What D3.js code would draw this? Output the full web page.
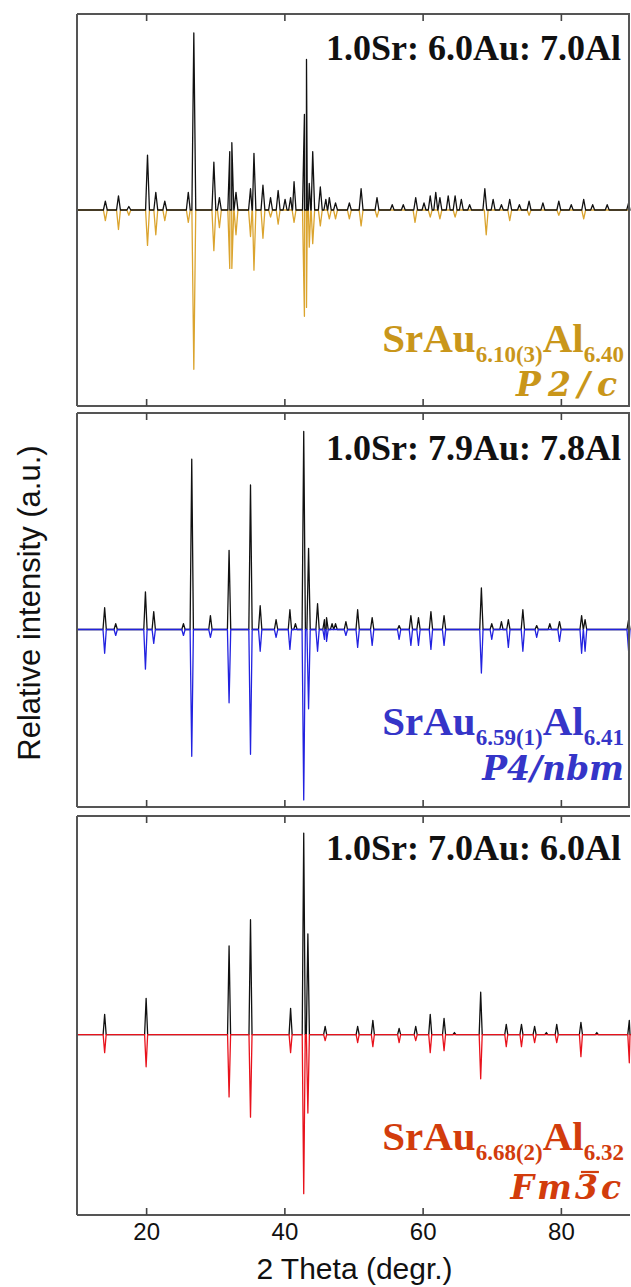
<!DOCTYPE html>
<html>
<head>
<meta charset="utf-8">
<script src="https://cdn.jsdelivr.net/npm/d3@7"></script>
<style>
  body { margin: 0; background: #fff; }
  .axis text { font-family: "Liberation Sans", Arial, sans-serif; fill: #111; }
</style>
</head>
<body>
<svg id="chart" width="631" height="1287"></svg>
<script>
// ── Data ───────────────────────────────────────────────────────────────────
const xDomain = [10, 90];
const xTicks = [20, 40, 60, 80];

// panel 1 : 1.0Sr : 6.0Au : 7.0Al  (relative intensity, %)
const obs1Pos = [14.1, 16.0, 17.5, 20.2, 21.4, 22.7, 26.1, 26.9, 29.8, 30.6, 32.1, 32.4, 33.0, 35.1, 35.6, 36.9,
  38.0, 39.1, 40.1, 40.9, 41.4, 42.9, 43.2, 43.6, 44.1, 45.2, 46.0, 46.5, 47.4, 49.4, 51.1, 53.4, 55.6, 57.2,
  59.0, 60.2, 61.1, 61.9, 62.5, 63.7, 64.7, 65.6, 66.8, 69.0, 70.2, 71.4, 72.6, 74.0, 75.4, 77.4, 79.7, 81.5,
  83.3, 84.6, 86.7, 89.8];
const obs1Int = [5, 8, 2, 31, 10, 5, 10, 100, 27, 7, 33, 38, 10, 12, 32, 14,
  7, 11, 6, 7, 16, 54, 85, 15, 33, 13, 6, 7, 4, 4, 12, 7, 3, 3,
  7, 4, 8, 10, 7, 8, 8, 6, 3, 12, 6, 3, 6, 3, 5, 4, 5, 3,
  6, 3, 3, 4];
const calc1Pos = [14.1, 16.0, 17.5, 20.2, 21.4, 22.7, 26.1, 26.9, 29.8, 30.6, 32.1, 32.4, 33.0, 35.1, 35.6, 36.9,
  38.0, 39.1, 41.4, 42.9, 43.2, 43.6, 44.1, 45.2, 46.5, 47.4, 49.4, 51.1, 53.4, 58.9, 61.1, 62.5, 64.7, 69.2,
  72.6, 75.4, 79.7, 83.3];
const calc1Int = [6, 11, 3, 20, 14, 6, 7, 90, 23, 10, 33, 33, 14, 15, 34, 16,
  4, 8, 7, 60, 55, 21, 19, 9, 5, 5, 5, 9, 4, 7, 4, 5, 4, 14,
  6, 3, 3, 5];

// panel 2 : 1.0Sr : 7.9Au : 7.8Al
const obs2Pos = [14.0, 15.6, 19.9, 21.1, 25.4, 26.6, 29.3, 32.0, 35.1, 36.5, 38.8, 40.8, 41.6, 42.8, 43.5, 44.8,
  45.8, 46.1, 46.9, 47.4, 48.9, 50.6, 52.7, 56.6, 58.3, 59.4, 61.2, 63.1, 68.5, 70.0, 71.4, 72.4, 74.5, 76.5,
  78.4, 79.8, 83.0, 83.5, 89.8];
const obs2Int = [11, 3, 19, 9, 3, 86, 7, 40, 73, 12, 5, 10, 3, 100, 41, 13,
  5, 6, 3, 3, 4, 10, 6, 2, 7, 6, 9, 7, 21, 3, 4, 5, 10, 2,
  3, 4, 7, 5, 5];
const calc2Pos = [14.0, 15.6, 19.9, 21.1, 25.4, 26.6, 29.3, 32.0, 35.1, 36.5, 38.8, 40.8, 42.8, 43.5, 44.8, 45.8,
  46.1, 48.9, 50.6, 52.7, 56.6, 58.3, 59.4, 61.2, 63.1, 68.5, 70.0, 72.4, 74.5, 76.5, 79.8, 83.0, 83.5, 89.8];
const calc2Int = [12, 3, 20, 7, 3, 64, 4, 37, 63, 11, 4, 10, 86, 40, 11, 5,
  6, 3, 9, 8, 5, 8, 8, 10, 8, 22, 5, 9, 11, 4, 6, 12, 11, 11];

// panel 3 : 1.0Sr : 7.0Au : 6.0Al
const obs3Pos = [14.0, 20.0, 32.0, 35.1, 40.9, 42.8, 43.4, 45.9, 50.6, 52.8, 56.6, 59.0, 61.1, 63.1, 64.6, 68.4,
  72.1, 74.3, 76.2, 77.9, 79.4, 82.9, 85.2, 89.9];
const obs3Int = [10, 18, 44, 57, 13, 100, 50, 4, 4, 7, 3, 4, 10, 8, 1, 21,
  5, 5, 4, 1, 5, 6, 1, 7];
const calc3Pos = [14.0, 20.0, 32.0, 35.1, 40.9, 42.8, 43.4, 45.9, 50.6, 52.8, 56.6, 59.0, 61.1, 63.1, 68.4, 72.1,
  74.3, 76.2, 79.4, 82.9, 89.9];
const calc3Int = [9, 16, 31, 41, 9, 79, 39, 3, 4, 6, 4, 3, 9, 8, 22, 6,
  6, 4, 4, 11, 14];

// labels
const ratioLabels = ["1.0Sr: 6.0Au: 7.0Al", "1.0Sr: 7.9Au: 7.8Al", "1.0Sr: 7.0Au: 6.0Al"];
const auSubs = ["6.10(3)", "6.59(1)", "6.68(2)"];
const alSubs = ["6.40", "6.41", "6.32"];
const spaceGroups = ["P2/c", "P4/nbm", "Fm3c"];
const barredChar = [-1, -1, 2];   // index of the character carrying an overbar (Fm-3c)
const yLabel = "Relative intensity (a.u.)";
const xLabel = "2 Theta (degr.)";

// y range (relative intensity) shown in each panel
const yDomains = [[-110.7, 110.7], [-89.6, 109.3], [-89.6, 108.5]];

// ── Layout ─────────────────────────────────────────────────────────────────
const LEFT = 77, RIGHT = 630;
const panels = [
  { top: 14,  bottom: 406,  calcColor: "#dba42e", textColor: "#c9961a", obsOnTop: true,  hw: 0.28,
    obsPos: obs1Pos, obsInt: obs1Int, calcPos: calc1Pos, calcInt: calc1Int,
    ratioY: 60, formulaY: 352, sgY: 396, sgSpacing: 7, rightBorder: true },
  { top: 413, bottom: 807,  calcColor: "#2222e0", textColor: "#3535c8", obsOnTop: false, hw: 0.24,
    obsPos: obs2Pos, obsInt: obs2Int, calcPos: calc2Pos, calcInt: calc2Int,
    ratioY: 460, formulaY: 735, sgY: 780, sgSpacing: 0, rightBorder: true },
  { top: 816, bottom: 1215, calcColor: "#e8121c", textColor: "#d23c0c", obsOnTop: false, hw: 0.22,
    obsPos: obs3Pos, obsInt: obs3Int, calcPos: calc3Pos, calcInt: calc3Int,
    ratioY: 860, formulaY: 1150, sgY: 1199, sgSpacing: 3, rightBorder: false }
];

const svg = d3.select("#chart");
const x = d3.scaleLinear().domain(xDomain).range([LEFT, RIGHT]);

// peaks -> line vertices (baseline, apex, baseline)
function profile(pos, inten, sign, hw) {
  const pts = [[xDomain[0], 0], [xDomain[1], 0]];
  pos.forEach((p, i) => {
    pts.push([p - hw, 0], [p, sign * inten[i]], [p + hw, 0]);
  });
  return pts.sort((a, b) => a[0] - b[0]);
}

// ── Panels ─────────────────────────────────────────────────────────────────
panels.forEach((p, k) => {
  const y = d3.scaleLinear().domain(yDomains[k]).range([p.bottom, p.top]);
  const g = svg.append("g");

  const line = d3.line().x(d => x(d[0])).y(d => y(d[1]));
  const obsPath = () => g.append("path")
    .datum(profile(p.obsPos, p.obsInt, 1, p.hw))
    .attr("fill", "none").attr("stroke", "#111").attr("stroke-width", 1.3)
    .attr("stroke-linejoin", "round").attr("d", line);
  const calcPath = () => g.append("path")
    .datum(profile(p.calcPos, p.calcInt, -1, p.hw))
    .attr("fill", "none").attr("stroke", p.calcColor).attr("stroke-width", 1.3)
    .attr("stroke-linejoin", "round").attr("d", line);

  if (p.obsOnTop) { calcPath(); obsPath(); } else { obsPath(); calcPath(); }

  // frame
  const frame = [[LEFT, p.top, RIGHT, p.top], [LEFT, p.top, LEFT, p.bottom], [LEFT, p.bottom, RIGHT, p.bottom]];
  if (p.rightBorder) frame.push([RIGHT - 1, p.top, RIGHT - 1, p.bottom]);
  g.selectAll("line.frame").data(frame).enter().append("line")
    .attr("class", "frame")
    .attr("x1", d => d[0]).attr("y1", d => d[1]).attr("x2", d => d[2]).attr("y2", d => d[3])
    .attr("stroke", "#555").attr("stroke-width", 2);

  // inward ticks
  const topAxis = g.append("g").attr("class", "axis").attr("transform", `translate(0,${p.top})`)
    .call(d3.axisBottom(x).tickValues(xTicks).tickSize(7).tickFormat(""));
  topAxis.select(".domain").remove();
  const botAxis = g.append("g").attr("class", "axis").attr("transform", `translate(0,${p.bottom})`)
    .call(d3.axisBottom(x).tickValues(xTicks).tickSizeInner(-7).tickSizeOuter(0).tickPadding(8)
      .tickFormat(k === 2 ? d3.format("d") : ""));
  botAxis.select(".domain").remove();
  g.selectAll(".axis line").attr("stroke", "#444").attr("stroke-width", 1.6);
  botAxis.selectAll("text").attr("font-size", 24).attr("dy", "0.71em");

  // composition label
  g.append("text")
    .attr("x", 621).attr("y", p.ratioY)
    .attr("text-anchor", "end")
    .attr("font-family", "'Liberation Serif', 'Times New Roman', serif")
    .attr("font-weight", "bold").attr("font-size", 36).attr("fill", "#111")
    .text(ratioLabels[k]);

  // refined formula
  const f = g.append("text")
    .attr("x", 624).attr("y", p.formulaY)
    .attr("text-anchor", "end")
    .attr("font-family", "'Liberation Serif', 'Times New Roman', serif")
    .attr("font-weight", "bold").attr("font-size", 41).attr("fill", p.textColor);
  f.append("tspan").text("SrAu");
  f.append("tspan").attr("font-size", 23).attr("dy", 10).text(auSubs[k]);
  f.append("tspan").attr("dy", -10).text("Al");
  f.append("tspan").attr("font-size", 23).attr("dy", 10).text(alSubs[k]);

  // space group
  const sg = g.append("text")
    .attr("x", 624).attr("y", p.sgY)
    .attr("text-anchor", "end")
    .attr("font-family", "'DejaVu Serif', serif")
    .attr("font-weight", "bold").attr("font-style", "italic")
    .attr("letter-spacing", p.sgSpacing)
    .attr("font-size", 33).attr("fill", p.textColor)
    .text(spaceGroups[k]);

  if (barredChar[k] >= 0) {
    const ext = sg.node().getExtentOfChar(barredChar[k]);
    g.append("line")
      .attr("x1", ext.x + 6).attr("x2", ext.x + ext.width - p.sgSpacing + 1)
      .attr("y1", p.sgY - 27).attr("y2", p.sgY - 27)
      .attr("stroke", p.textColor).attr("stroke-width", 2.2);
  }
});

// ── Axis titles ────────────────────────────────────────────────────────────
svg.append("text")
  .attr("transform", "translate(40,603) rotate(-90)")
  .attr("text-anchor", "middle")
  .attr("font-family", "'Liberation Sans', Arial, sans-serif")
  .attr("font-size", 31).attr("fill", "#111")
  .text(yLabel);

svg.append("text")
  .attr("x", (LEFT + RIGHT) / 2 + 1).attr("y", 1279)
  .attr("text-anchor", "middle")
  .attr("font-family", "'Liberation Sans', Arial, sans-serif")
  .attr("font-size", 30).attr("fill", "#111")
  .text(xLabel);
</script>
</body>
</html>
